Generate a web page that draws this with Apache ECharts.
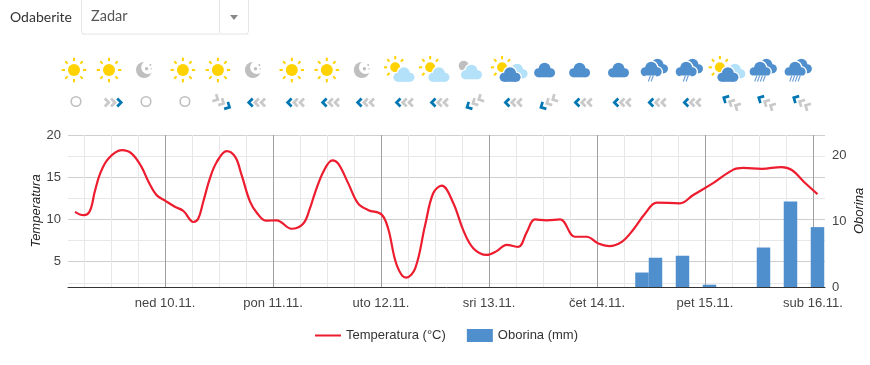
<!DOCTYPE html>
<html>
<head>
<meta charset="utf-8">
<style>html,body{margin:0;padding:0;background:#fff}#c{width:870px;height:365px}</style>
<script src="https://cdn.jsdelivr.net/npm/echarts@6/dist/echarts.min.js"></script>
</head>
<body>
<div id="c"></div>
<script>
// Hours counted from the first forecast point
const tempHours = [0,1.9,3.3,4.4,5.6,7.4,10.4,12.6,14.8,16.3,18.1,20.1,22.2,24.1,26.3,27.4,28.5,30,31.5,33.7,35.6,37,38.9,40.4,42.4,44.8,48.1,50.7,52.2,53.3,55.2,57.2,58.5,60.7,62.9,65.2,68.1,69.6,71.5,73.6,75.6,77.8,79.6,81.5,84.1,86.3,88.5,91.5,93.7,95.9,98.5,100.4,102.2,104.8,107.8,111.1,113.7,116.3,118.7,121.5,124,126.7,129.3,134.4,137.4,141.8,146.3,148.5,152.6,157,159.3,161.9,165];
const tempValues = [10.9,10.5,11.0,13.3,15.45,17.2,18.2,17.8,16.2,14.5,12.9,12.2,11.5,11.0,9.7,10.1,12.1,14.9,16.8,18.1,17.4,15.3,12.1,10.8,9.85,9.9,8.9,9.5,11.3,13.1,15.65,17.0,16.6,14.3,11.9,11.1,10.6,8.9,4.6,3.1,4.2,9.3,13.1,14.0,11.9,8.7,6.6,5.8,6.25,7.0,6.75,8.5,10.0,9.9,10.0,7.95,7.95,7.15,6.85,7.35,8.75,10.7,12.0,11.9,12.9,14.3,15.9,16.1,16.0,16.2,15.85,14.5,13.0];
const rainHours = [126,129,135,141,153,159,165];
const rainValues = [2.2,4.45,4.75,0.35,6,13,9.1];
const dayHours = [20,44,68,92,116,140,164];
const dayLabels = ['ned 10.11.','pon 11.11.','uto 12.11.','sri 13.11.','čet 14.11.','pet 15.11.','sub 16.11.'];
const minorHours = [2,8,14,26,32,38,50,56,62,74,80,86,98,104,110,122,128,134,146,152,158];
const tempTicks = [5,10,15,20];
const tempMinorTicks = [2.5,7.5,12.5,17.5];
const rainTicks = [0,10,20];
const weatherIcons = ['sun','sun','moon','sun','sun','moon','sun','sun','moon','sunLight','sunLight','moonLight','sunDark','cloud','cloud','cloud','rain','rain','sunDark','heavy','heavy'];
const windIcons = ['calm','E','calm','calm','SE','W','W','W','W','W','W','SW','W','SW','W','W','W','W','NW','NW','NW'];

const FONT = '"Liberation Sans", Arial, sans-serif';
const UI = 'Lato, sans-serif';
const TXT = '#444';
const YEL = '#ffd200', GREY = '#bfbfbf', BLUE = '#508fcd', LIGHT = '#b3e1f9', WIND = '#0077b3', WGREY = '#c9c9c9';
const LINE_ICON = 'path://M0,0L0,0ZM0,5.5L26,5.5L26,7.5L0,7.5ZM26,13L26,13Z';

function sun(cx, cy, r) {
  const out = [];
  for (let i = 0; i < 8; i++) {
    const a = i * Math.PI / 4, c = Math.cos(a), s = Math.sin(a);
    out.push({type:'line', shape:{x1:cx+c*(r+3), y1:cy+s*(r+3), x2:cx+c*(r+6.3), y2:cy+s*(r+6.3)}, style:{stroke:YEL, lineWidth:2}});
  }
  out.push({type:'circle', shape:{cx, cy, r}, style:{fill:YEL}});
  return out;
}
function cloud(cx, cy, color, halo) {
  const pad = halo ? 1.4 : 0, fill = halo ? '#fff' : color;
  const parts = [
    {type:'circle', shape:{cx, cy:cy-1.3, r:6+pad}, style:{fill}},
    {type:'circle', shape:{cx:cx-6, cy:cy+2.8, r:4.5+pad}, style:{fill}},
    {type:'circle', shape:{cx:cx+6, cy:cy+2.8, r:4.5+pad}, style:{fill}},
    {type:'rect', shape:{x:cx-6, y:cy+1-pad, width:12, height:6.3+2*pad}, style:{fill}}
  ];
  return halo ? parts.concat(cloud(cx, cy, color, false)) : parts;
}
function rainLines(cx, cy, n) {
  const out = [{type:'rect', shape:{x:cx-n*1.7-2, y:cy+5, width:n*3.4+4, height:3}, style:{fill:'#fff'}}];
  for (let i = 0; i < n; i++) {
    const x = cx + (i - (n-1)/2) * 2.8;
    out.push({type:'line', shape:{x1:x+1.2, y1:cy+5, x2:x-1, y2:cy+11}, style:{stroke:'#6a9fd6', lineWidth:1.1}});
  }
  return out;
}
function weather(kind, x) {
  const y = 70;
  switch (kind) {
    case 'sun': return sun(x, y, 6);
    case 'moon': return [
      {type:'circle', shape:{cx:x, cy:y, r:8}, style:{fill:GREY}},
      {type:'circle', shape:{cx:x+3.8, cy:y-2.6, r:6.6}, style:{fill:'#fff'}},
      {type:'circle', shape:{cx:x+2.6, cy:y-1.2, r:1.7}, style:{fill:GREY}},
      {type:'circle', shape:{cx:x+6.4, cy:y-5, r:1}, style:{fill:GREY}},
      {type:'circle', shape:{cx:x+7.2, cy:y-1.2, r:0.7}, style:{fill:GREY}}
    ];
    case 'sunLight': return sun(x-5.5, y-2.7, 5).concat(cloud(x+3.2, y+4.5, LIGHT, true));
    case 'moonLight': return [{type:'circle', shape:{cx:x-7, cy:y-4.3, r:5}, style:{fill:GREY}}].concat(cloud(x+0.8, y+2, LIGHT, true));
    case 'sunDark': return sun(x-7.5, y-2.7, 5).concat(cloud(x+7.5, y+1, LIGHT, false), cloud(x+0.5, y+4.5, BLUE, true));
    case 'cloud': return cloud(x, y, BLUE, false);
    case 'rain': return cloud(x+4, y-4, BLUE, false).concat(cloud(x-2.3, y-1, BLUE, true), rainLines(x-2.8, y+0.5, 2));
    case 'heavy': return cloud(x+4, y-4, BLUE, false).concat(cloud(x-2.3, y-1, BLUE, true), rainLines(x-2.5, y+0.5, 4));
  }
  return [];
}
const WIND_POSE = {
  W:  {dir:0,    turn:0,    gap:6.2},
  E:  {dir:180,  turn:180,  gap:6.2},
  SW: {dir:33,   turn:28,   gap:7},
  NW: {dir:-33,  turn:-28,  gap:7},
  SE: {dir:147,  turn:152,  gap:7}
};
function wind(kind, x) {
  const y = 102.5;
  if (kind === 'calm') return [{type:'circle', shape:{cx:x-2, cy:y-1, r:4.8}, style:{fill:'none', stroke:GREY, lineWidth:1.6}}];
  const p = WIND_POSE[kind], d = p.dir * Math.PI / 180;
  return [-1,0,1].map((k, i) => ({
    type:'polyline',
    x: x + k*p.gap*Math.cos(d),
    y: y - k*p.gap*Math.sin(d),
    rotation: p.turn * Math.PI / 180,
    shape:{points:[[2,-4],[-2,0],[2,4]]},
    style:{fill:'none', stroke:i===0?WIND:WGREY, lineWidth:2.7, lineJoin:'miter'}
  }));
}

const gfx = [
  {type:'rect', shape:{x:81.5,y:-3,width:167,height:37,r:3}, style:{fill:'#fff', stroke:'#e6e6e6', lineWidth:1}},
  {type:'line', shape:{x1:81.5,y1:34.5,x2:248.5,y2:34.5}, style:{stroke:'#f0f0f0', lineWidth:1}},
  {type:'line', shape:{x1:219.5,y1:0,x2:219.5,y2:33}, style:{stroke:'#e6e6e6', lineWidth:1}},
  {type:'polygon', shape:{points:[[230,15],[238,15],[234,20]]}, style:{fill:'#888'}},
  {type:'text', x:10, y:17, style:{text:'Odaberite', font:'14px '+UI, fill:'#333', textVerticalAlign:'middle'}},
  {type:'text', x:91, y:16, style:{text:'Zadar', font:'14.5px '+UI, fill:'#555', textVerticalAlign:'middle'}}
];
weatherIcons.forEach((k, i) => {
  const x = 74 + Math.floor(i/3)*108.9 + (i%3)*35;
  weather(k, x).forEach(e => gfx.push(e));
  wind(windIcons[i], x+4).forEach(e => gfx.push(e));
});

const hiddenAxis = {axisLine:{show:false}, axisLabel:{show:false}};
const chart = echarts.init(document.getElementById('c'), null, {renderer:'canvas'});
chart.setOption({
  animation:false,
  textStyle:{fontFamily:FONT},
  graphic:{elements:gfx},
  grid:{left:68, right:45, top:135, bottom:78, outerBoundsMode:'none'},
  legend:{
    left:315, top:329, itemWidth:26, itemHeight:13, itemGap:21, padding:0, itemStyle:{borderWidth:0},
    textStyle:{fontFamily:FONT, fontSize:13, color:'#333'},
    data:[{name:'Temperatura (°C)', icon:LINE_ICON},{name:'Oborina (mm)', icon:'rect'}]
  },
  xAxis:[
    {type:'value', min:-1.556, max:166.67, position:'bottom',
     axisLine:{show:false}, axisLabel:{show:false}, axisTick:{show:false, customValues:minorHours},
     splitLine:{show:true, lineStyle:{color:'#e8e8e8', width:1}}},
    {type:'value', min:-1.556, max:166.67, position:'bottom',
     axisLine:{show:true, onZero:false, lineStyle:{color:'#333', width:1}},
     axisTick:{show:false, customValues:dayHours},
     axisLabel:{customValues:dayHours, margin:10, fontSize:13, color:TXT, fontFamily:FONT,
       formatter:v => dayLabels[dayHours.indexOf(v)]},
     splitLine:{show:true, lineStyle:{color:'#a0a0a0', width:1}}}
  ],
  yAxis:[
    {type:'value', min:2, max:20, position:'left',
     axisLine:{show:false}, axisTick:{show:false, customValues:tempTicks},
     axisLabel:{customValues:tempTicks, margin:7, fontSize:13, color:TXT, fontFamily:FONT},
     splitLine:{show:true, lineStyle:{color:'#cfcfcf', width:1}},
     name:'Temperatura', nameLocation:'middle', nameGap:25, nameRotate:90, nameMoveOverlap:false,
     nameTextStyle:{fontStyle:'italic', fontSize:13, color:'#222', fontFamily:FONT}},
    {type:'value', min:0, max:23.1, position:'right',
     axisLine:{show:false}, axisTick:{show:false, customValues:rainTicks},
     axisLabel:{customValues:rainTicks, margin:7, fontSize:13, color:TXT, fontFamily:FONT},
     splitLine:{show:false},
     name:'Oborina', nameLocation:'middle', nameGap:28, nameRotate:90, nameMoveOverlap:false,
     nameTextStyle:{fontStyle:'italic', fontSize:13, color:'#222', fontFamily:FONT}},
    Object.assign({type:'value', min:2, max:20, position:'left',
     axisTick:{show:false, customValues:tempMinorTicks},
     splitLine:{show:true, lineStyle:{color:'#e8e8e8', width:1}}}, hiddenAxis)
  ],
  series:[
    {name:'Oborina (mm)', type:'bar', xAxisIndex:1, yAxisIndex:1, barWidth:13.5, z:3,
     itemStyle:{color:BLUE}, data:rainHours.map((h,i)=>[h,rainValues[i]])},
    {name:'Temperatura (°C)', type:'line', xAxisIndex:1, yAxisIndex:0, smooth:0.38, showSymbol:false, symbol:'none', z:4,
     lineStyle:{color:'#ed1c2e', width:2.2}, itemStyle:{color:'#ed1c2e'},
     data:tempHours.map((h,i)=>[h,tempValues[i]])}
  ]
});
</script>
</body>
</html>
